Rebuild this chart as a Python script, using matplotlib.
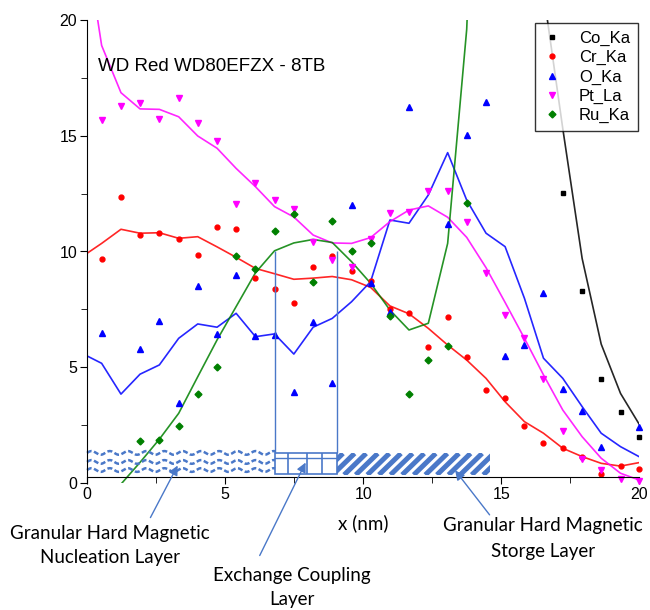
import numpy as np
import matplotlib.pyplot as plt
from matplotlib.patches import Rectangle

# depth positions of the measured points (nm)
x_pts = [0.53, 1.23, 1.92, 2.62, 3.32, 4.01, 4.71, 5.40, 6.10, 6.79,
         7.49, 8.19, 8.88, 9.58, 10.27, 10.97, 11.66, 12.36, 13.06, 13.75,
         14.45, 15.14, 15.84, 16.53, 17.23, 17.93, 18.62, 19.32, 19.99]
# smoothed curves start at 0 then follow the same positions
x_line = [0.0] + x_pts

nan = np.nan
co_pts = [nan] * 24 + [12.51, 8.31, 4.48, 3.05, 2.0]
cr_pts = [9.66, 12.37, 10.71, 10.81, 10.53, 9.83, 11.07, 10.99, 8.86, 8.38,
          7.76, 9.33, 9.81, 9.15, 8.72, 7.50, 7.33, 5.89, 7.19, 5.46,
          4.02, 3.66, 2.46, 1.71, 1.53, 1.14, 0.39, 0.73, 0.59]
o_pts = [6.47, nan, 5.78, 7.01, 3.44, 8.52, 6.44, 8.97, 6.35, 6.39,
         3.92, 6.95, 4.33, 12.03, 8.66, 7.40, 16.26, nan, 11.18, 15.03,
         16.46, 5.49, 5.96, 8.19, 4.05, 3.11, 1.54, nan, 2.43]
pt_pts = [15.68, 16.29, 16.40, 15.72, 16.62, 15.54, 14.77, 12.04, 12.95, 12.22,
          11.82, 10.43, 9.63, 9.32, 10.54, 11.68, 11.72, 12.63, 12.63, 11.26,
          9.06, 7.27, 6.28, 4.48, 2.25, 1.02, 0.56, 0.19, 0.10]
ru_pts = [nan, nan, 1.83, 1.86, 2.46, 3.83, 5.02, 9.81, 9.23, 10.87,
          11.61, 8.67, 11.32, 10.01, 10.36, 7.21, 3.84, 5.31, 5.92, 12.08] + [nan] * 9

co_line = [nan] * 23 + [26.0, 21.2, 15.3, 9.7, 6.0, 3.87, 2.55]
cr_line = [9.92, 10.35, 10.96, 10.79, 10.81, 10.57, 10.64, 10.2, 9.75, 9.27,
           9.04, 8.80, 8.85, 8.92, 8.78, 8.45, 7.65, 7.31, 6.68, 5.96,
           5.31, 4.52, 3.51, 2.65, 2.15, 1.50, 1.14, 0.85, 0.73, 0.88]
o_line = [5.49, 5.17, 3.84, 4.70, 5.10, 6.25, 6.87, 6.73, 7.33, 6.32,
          6.44, 5.57, 6.73, 7.11, 7.83, 8.70, 11.36, 11.22, 12.44, 14.27,
          12.22, 10.79, 10.21, 7.98, 5.39, 4.52, 3.30, 2.15, 1.57, 1.14]
pt_line = [23.0, 18.9, 16.86, 16.16, 16.14, 15.82, 14.99, 14.46, 13.59, 12.80,
           11.94, 11.49, 10.71, 10.37, 10.35, 10.6, 11.29, 11.79, 11.97, 11.48,
           10.61, 9.3, 7.8, 6.25, 4.67, 3.15, 2.0, 1.07, 0.42, 0.13]
ru_line = [-1.8, -1.0, -0.05, 0.89, 1.89, 3.01, 4.59, 6.18, 7.62, 9.08,
           10.03, 10.37, 10.52, 10.39, 9.56, 8.63, 7.47, 6.61, 6.90, 10.35,
           19.6, 40.0] + [nan] * 8

series = [
    ('Co_Ka', co_pts, co_line, 'black', 's', 3.5),
    ('Cr_Ka', cr_pts, cr_line, '#ff0000', 'o', 3.5),
    ('O_Ka', o_pts, o_line, '#0000ff', '^', 4.5),
    ('Pt_La', pt_pts, pt_line, '#ff00ff', 'v', 4.5),
    ('Ru_Ka', ru_pts, ru_line, '#008000', 'D', 3.5),
]

# layer sketch along the bottom (nm, at%)
nucl_x = (0.0, 6.81)
wave_rows = [1.30, 0.91, 0.56]
exch_x = (6.81, 9.05)
exch_ticks = [7.29, 7.96, 8.50]
stor_x = (9.05, 14.6)
band_y = (0.39, 1.28)
layer_col = '#4a78c8'

plt.rcParams['font.family'] = ['Liberation Sans', 'DejaVu Sans']

fig = plt.figure(figsize=(6.5, 6.1), dpi=100)
ax = fig.add_axes([87 / 650, 1 - 483 / 610, 552.3 / 650, 463 / 610])

for name, pts, line, col, mk, ms in series:
    ax.plot(x_line, line, color=col, lw=1.2, alpha=0.85)
for name, pts, line, col, mk, ms in series:
    ax.plot(x_pts, pts, ls='none', marker=mk, ms=ms, color=col, label=name,
            clip_on=False)

ax.set_xlim(0, 20)
ax.set_ylim(0, 20)
ax.spines['top'].set_visible(False)
ax.spines['right'].set_visible(False)
ax.spines['bottom'].set_position(('data', 0.26))
ax.set_xticks([0, 5, 10, 15, 20])
ax.set_yticks([0, 5, 10, 15, 20])
ax.set_xticks(np.arange(2.5, 20, 5), minor=True)
ax.set_yticks(np.arange(2.5, 20, 5), minor=True)
ax.tick_params(which='major', length=5, labelsize=11.5, pad=2)
ax.tick_params(which='minor', length=4)
ax.set_xlabel('x (nm)', family=['Lato', 'DejaVu Sans'], fontsize=13.5, labelpad=9)

ax.text(0.4, 18.0, 'WD Red WD80EFZX - 8TB', fontsize=13.5, va='center', ha='left')

leg = ax.legend(loc='upper right', bbox_to_anchor=(1.003, 1.0), fontsize=12,
                frameon=True, fancybox=False, edgecolor='black', handlelength=1.2,
                handletextpad=1.0, labelspacing=0.25, borderpad=0.45,
                borderaxespad=0.2)
leg.get_frame().set_linewidth(1.0)

# nucleation layer: wavy dashed rows
xs = np.linspace(nucl_x[0], nucl_x[1], 300)
for yr in wave_rows:
    ax.plot(xs, yr + 0.08 * np.sin(xs / 0.66 * 2 * np.pi), color=layer_col,
            lw=1.8, ls=(0, (2, 1)), clip_on=False)

# exchange coupling layer box
ax.add_patch(Rectangle((exch_x[0], band_y[0]), exch_x[1] - exch_x[0],
                       band_y[1] - band_y[0], fill=False, ec=layer_col, lw=1.2))
ax.plot(exch_x, [1.07, 1.07], color=layer_col, lw=1.0)
ax.vlines(exch_ticks, band_y[0], band_y[1], color=layer_col, lw=1.2)
ax.vlines(exch_x, band_y[1], 10.0, color=layer_col, lw=1.0)

# storage layer: thick diagonal stripes
stor_box = Rectangle((stor_x[0], band_y[0] - 0.04), stor_x[1] - stor_x[0],
                     band_y[1] - band_y[0] + 0.04, fill=False, lw=0)
ax.add_patch(stor_box)
for s0 in np.arange(stor_x[0] - 1.0, stor_x[1] + 0.1, 0.42):
    ln, = ax.plot([s0, s0 + 0.8], [band_y[0] - 0.04, band_y[1]], color=layer_col,
                  lw=3.6, solid_capstyle='butt')
    ln.set_clip_path(stor_box)

arrow = dict(arrowstyle='-|>', color=layer_col, lw=1.0, mutation_scale=14)
ax.annotate('', xy=(3.33, 0.86), xytext=(2.25, -1.6), arrowprops=arrow,
            annotation_clip=False)
ax.annotate('', xy=(7.96, 0.99), xytext=(6.21, -3.24), arrowprops=arrow,
            annotation_clip=False)
ax.annotate('', xy=(13.27, 0.64), xytext=(14.64, -1.47), arrowprops=arrow,
            annotation_clip=False)

cal = dict(family=['Lato', 'DejaVu Sans'], fontsize=13.5, ha='center', va='center')
fig.text(110 / 650, 1 - 533 / 610, 'Granular Hard Magnetic', **cal)
fig.text(110 / 650, 1 - 558 / 610, 'Nucleation Layer', **cal)
fig.text(292 / 650, 1 - 575 / 610, 'Exchange Coupling', **cal)
fig.text(292 / 650, 1 - 600 / 610, 'Layer', **cal)
fig.text(543 / 650, 1 - 526 / 610, 'Granular Hard Magnetic', **cal)
fig.text(543 / 650, 1 - 552 / 610, 'Storge Layer', **cal)

fig.savefig('out.png', dpi=100)
